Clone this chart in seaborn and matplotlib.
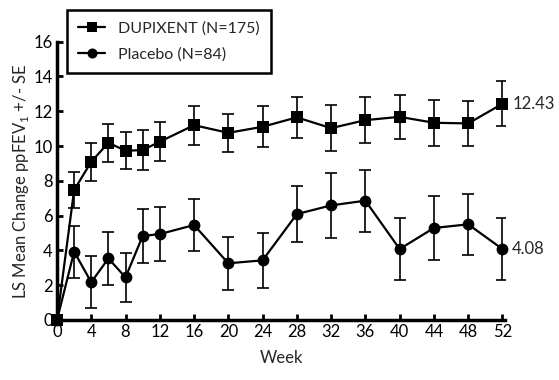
import pandas as pd
import seaborn as sns
import matplotlib.pyplot as plt

weeks = [0, 2, 4, 6, 8, 10, 12, 16, 20, 24, 28, 32, 36, 40, 44, 48, 52]
dupixent = [0, 7.47, 9.1, 10.19, 9.73, 9.77, 10.25, 11.2, 10.76, 11.11, 11.65, 11.03, 11.49, 11.68, 11.34, 11.3, 12.43]
dupixent_se = [0, 1.05, 1.1, 1.1, 1.05, 1.15, 1.13, 1.12, 1.1, 1.19, 1.16, 1.34, 1.31, 1.28, 1.32, 1.28, 1.3]
placebo = [0, 3.93, 2.17, 3.54, 2.45, 4.83, 4.94, 5.46, 3.26, 3.43, 6.09, 6.59, 6.86, 4.08, 5.29, 5.5, 4.08]
placebo_se = [0, 1.5, 1.5, 1.5, 1.43, 1.55, 1.54, 1.5, 1.53, 1.6, 1.62, 1.86, 1.79, 1.8, 1.85, 1.76, 1.79]
labels = ['DUPIXENT (N=175)', 'Placebo (N=84)']
end_labels = ['12.43', '4.08']

sns.set_style('ticks')
plt.rcParams['font.family'] = ['Lato', 'DejaVu Sans']
plt.rcParams['mathtext.fontset'] = 'custom'
plt.rcParams['mathtext.rm'] = 'Lato'
plt.rcParams['font.size'] = 12

df = pd.DataFrame({
    'Week': weeks * 2,
    'value': dupixent + placebo,
    'group': [labels[0]] * len(weeks) + [labels[1]] * len(weeks),
})

fig = plt.figure(figsize=(5.59, 3.8), dpi=100)
ax = fig.add_axes([57 / 559, 1 - 320 / 380, 448 / 559, (320 - 41.7) / 380])

sns.lineplot(data=df, x='Week', y='value', hue='group', style='group',
             markers={labels[0]: 's', labels[1]: 'o'}, dashes=False,
             palette={labels[0]: 'black', labels[1]: 'black'},
             markersize=8.5, markeredgewidth=0, linewidth=1.6, ax=ax,
             clip_on=False, zorder=3)

for means, se in [(dupixent, dupixent_se), (placebo, placebo_se)]:
    ax.errorbar(weeks[1:], means[1:], yerr=se[1:], fmt='none', ecolor='black',
                elinewidth=1.2, capsize=4.5, capthick=1.2, zorder=2)

for means, txt in zip([dupixent, placebo], end_labels):
    ax.annotate(txt, (weeks[-1], means[-1]), xytext=(7, 0), textcoords='offset points',
                va='center', ha='left', fontsize=12)

ax.set_xlim(0, 52.3)
ax.set_ylim(0, 16)
ax.set_xticks(range(0, 53, 4))
ax.set_yticks(range(0, 17, 2))
ax.tick_params(direction='in', length=4, width=2, colors='black', labelsize=12, pad=3)
for s in ['left', 'bottom']:
    ax.spines[s].set_linewidth(2.5)
    ax.spines[s].set_color('black')
sns.despine(ax=ax)

ax.set_xlabel('Week', fontsize=12, labelpad=7)
ax.set_ylabel(r'LS Mean Change ppFEV$_\mathregular{1}$ +/- SE', fontsize=12, labelpad=2)

leg = ax.legend(loc='upper left', bbox_to_anchor=(67 / 559, 1 - 10 / 380),
                bbox_transform=fig.transFigure, borderaxespad=0, fancybox=False,
                edgecolor='black', framealpha=1, handlelength=1.7, handletextpad=0.8,
                fontsize=11.5, borderpad=0.7, labelspacing=0.75, markerscale=0.85,
                title=None)
leg.get_frame().set_linewidth(1.8)

plt.savefig('out.png', dpi=100)
